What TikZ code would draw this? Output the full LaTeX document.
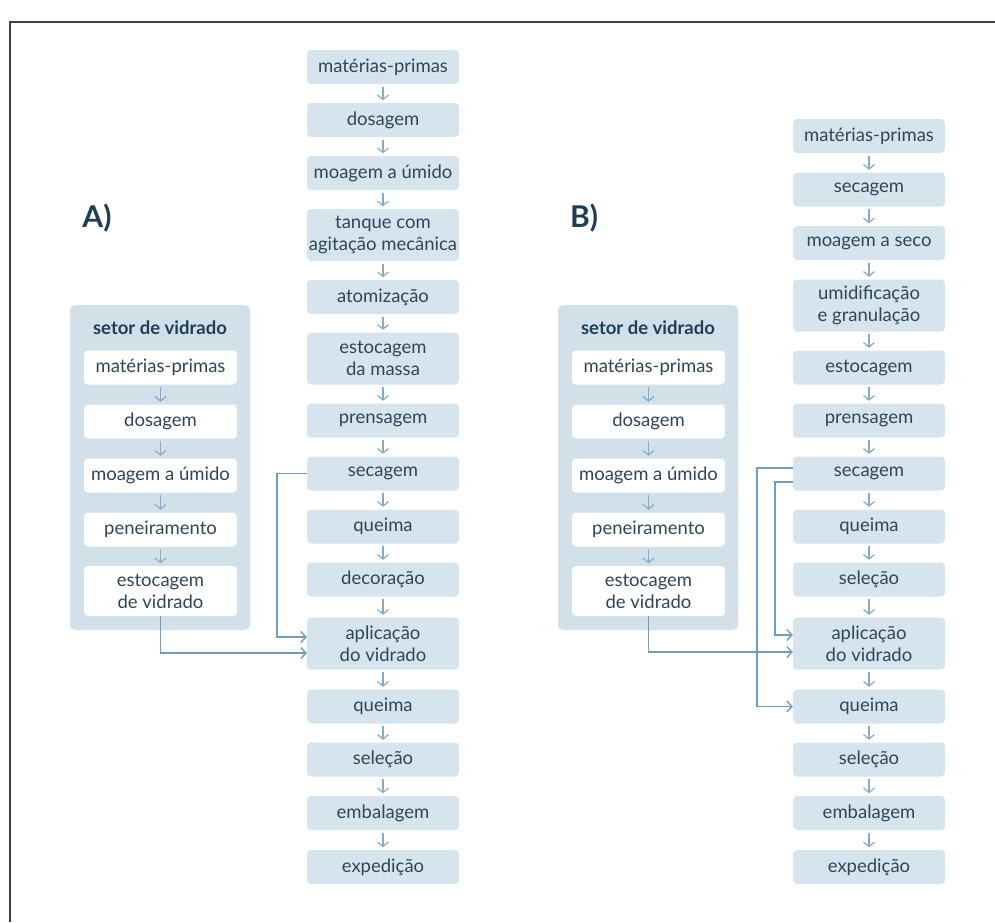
\documentclass[tikz,border=0pt]{standalone}
\usepackage{fontspec}
\setmainfont{Lato}
\usetikzlibrary{arrows.meta}

% --- cores ---
\definecolor{caixa}{HTML}{D6E4ED}
\definecolor{painel}{HTML}{D2E0EA}
\definecolor{textoescuro}{HTML}{2F4559}
\definecolor{titulo}{HTML}{1E3D57}
\definecolor{setacor}{HTML}{84ACC9}
\definecolor{ligacor}{HTML}{6F9CBF}

\tikzset{
  etapa/.style={fill=caixa, text=textoescuro, rounded corners=4pt, minimum width=152pt,
    minimum height=34pt, align=center, inner sep=2pt, font=\fontsize{18.5}{22}\selectfont},
  etapadupla/.style={etapa, minimum height=52pt},
  etapavidro/.style={etapa, fill=white, minimum width=153pt},
  setor/.style={fill=painel, rounded corners=5pt, minimum width=180pt, minimum height=325pt},
  seta/.style={draw=setacor, line width=1.2pt, -{Straight Barb[length=4.5pt,width=11pt]},
    shorten <=2.5pt, shorten >=2.5pt},
  ligacao/.style={draw=ligacor, line width=1.4pt, -{Straight Barb[length=5pt,width=11pt]}},
  rotulo/.style={text=titulo, font=\bfseries\fontsize{30}{34}\selectfont}
}

\begin{document}
\begin{tikzpicture}[x=1pt, y=-1pt]
    % --- moldura ---
    \useasboundingbox (0,0) rectangle (995,922);
    \draw[line width=1.2pt, black!75] (995,22) -- (10,22) -- (10,922);

    % --- parametros ---
    \def\xA{383}
    \def\xB{869}

    % --- A) processo via umida ---
    \node[rotulo] (rotA) at (97,218) {A)};
    \node[etapa] (a1) at (\xA,67) {matérias-primas};
    \node[etapa] (a2) at (\xA,120) {dosagem};
    \node[etapa] (a3) at (\xA,173) {moagem a úmido};
    \node[etapadupla] (a4) at (\xA,235) {tanque com\\agitação mecânica};
    \node[etapa] (a5) at (\xA,297) {atomização};
    \node[etapadupla] (a6) at (\xA,358.5) {estocagem\\da massa};
    \node[etapa] (a7) at (\xA,420.5) {prensagem};
    \node[etapa] (a8) at (\xA,473.5) {secagem};
    \node[etapa] (a9) at (\xA,526.5) {queima};
    \node[etapa] (a10) at (\xA,579.5) {decoração};
    \node[etapadupla] (a11) at (\xA,643.5) {aplicação\\do vidrado};
    \node[etapa] (a12) at (\xA,706.5) {queima};
    \node[etapa] (a13) at (\xA,759.5) {seleção};
    \node[etapa] (a14) at (\xA,813) {embalagem};
    \node[etapa] (a15) at (\xA,867) {expedição};

    % setor de vidrado (A)
    \node[setor] (setorA) at (160,467.5) {};
    \node[text=titulo, font=\bfseries\fontsize{18.5}{22}\selectfont] (titA) at (160,328) {setor de vidrado};
    \node[etapavidro] (va1) at (160.5,367.5) {matérias-primas};
    \node[etapavidro] (va2) at (160.5,421.5) {dosagem};
    \node[etapavidro] (va3) at (160.5,475.5) {moagem a úmido};
    \node[etapavidro] (va4) at (160.5,529.5) {peneiramento};
    \node[etapavidro, minimum height=50pt] (va5) at (160.5,591) {estocagem\\de vidrado};

    % --- B) processo via seca ---
    \node[rotulo] (rotB) at (584,218) {B)};
    \node[etapa] (b1) at (\xB,136) {matérias-primas};
    \node[etapa] (b2) at (\xB,189.5) {secagem};
    \node[etapa] (b3) at (\xB,243) {moagem a seco};
    \node[etapadupla] (b4) at (\xB,305.5) {umidificação\\e granulação};
    \node[etapa] (b5) at (\xB,367.5) {estocagem};
    \node[etapa] (b6) at (\xB,420.5) {prensagem};
    \node[etapa] (b7) at (\xB,473.5) {secagem};
    \node[etapa] (b8) at (\xB,526.5) {queima};
    \node[etapa] (b9) at (\xB,579.5) {seleção};
    \node[etapadupla] (b10) at (\xB,643.5) {aplicação\\do vidrado};
    \node[etapa] (b11) at (\xB,706.5) {queima};
    \node[etapa] (b12) at (\xB,759.5) {seleção};
    \node[etapa] (b13) at (\xB,813) {embalagem};
    \node[etapa] (b14) at (\xB,867) {expedição};

    % setor de vidrado (B)
    \node[setor] (setorB) at (648,467.5) {};
    \node[text=titulo, font=\bfseries\fontsize{18.5}{22}\selectfont] (titB) at (648,328) {setor de vidrado};
    \node[etapavidro] (vb1) at (648.5,367.5) {matérias-primas};
    \node[etapavidro] (vb2) at (648.5,421.5) {dosagem};
    \node[etapavidro] (vb3) at (648.5,475.5) {moagem a úmido};
    \node[etapavidro] (vb4) at (648.5,529.5) {peneiramento};
    \node[etapavidro, minimum height=50pt] (vb5) at (648.5,591) {estocagem\\de vidrado};

    % --- setas entre etapas ---
    \draw[seta] (a1) -- (a2);   \draw[seta] (a2) -- (a3);   \draw[seta] (a3) -- (a4);
    \draw[seta] (a4) -- (a5);   \draw[seta] (a5) -- (a6);   \draw[seta] (a6) -- (a7);
    \draw[seta] (a7) -- (a8);   \draw[seta] (a8) -- (a9);   \draw[seta] (a9) -- (a10);
    \draw[seta] (a10) -- (a11); \draw[seta] (a11) -- (a12); \draw[seta] (a12) -- (a13);
    \draw[seta] (a13) -- (a14); \draw[seta] (a14) -- (a15);
    \draw[seta] (va1) -- (va2); \draw[seta] (va2) -- (va3); \draw[seta] (va3) -- (va4);
    \draw[seta] (va4) -- (va5);

    \draw[seta] (b1) -- (b2);   \draw[seta] (b2) -- (b3);   \draw[seta] (b3) -- (b4);
    \draw[seta] (b4) -- (b5);   \draw[seta] (b5) -- (b6);   \draw[seta] (b6) -- (b7);
    \draw[seta] (b7) -- (b8);   \draw[seta] (b8) -- (b9);   \draw[seta] (b9) -- (b10);
    \draw[seta] (b10) -- (b11); \draw[seta] (b11) -- (b12); \draw[seta] (b12) -- (b13);
    \draw[seta] (b13) -- (b14);
    \draw[seta] (vb1) -- (vb2); \draw[seta] (vb2) -- (vb3); \draw[seta] (vb3) -- (vb4);
    \draw[seta] (vb4) -- (vb5);

    % --- ligacoes com a aplicacao do vidrado ---
    \draw[ligacao] (va5.south) |- ([yshift=-9.5pt]a11.west);
    \draw[ligacao] (a8.west) -- ++(-30,0) |- ([yshift=6.5pt]a11.west);

    \draw[ligacao] (vb5.south) |- ([yshift=-8.5pt]b10.west);
    \draw[ligacao] ([yshift=-8.5pt]b7.west) -- ++(-18,0) |- ([yshift=8.5pt]b10.west);
    \draw[ligacao] ([yshift=5.5pt]b7.west) -- ++(-36,0) |- (b11.west);

\end{tikzpicture}
\end{document}
